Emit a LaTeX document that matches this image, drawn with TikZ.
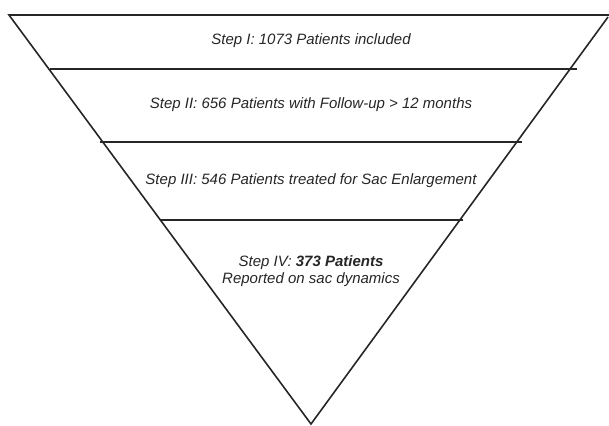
\documentclass[tikz,border=0pt]{standalone}
\usepackage{fontspec}
\setmainfont{Liberation Sans}
\begin{document}
\begin{tikzpicture}[x=1pt,y=-1pt,
  edge/.style={line width=1.6pt,draw=black!85},
  lbl/.style={font=\itshape\fontsize{15}{16.5}\selectfont,align=center,text=black!85}]
\useasboundingbox (0,0) rectangle (609,425);
\coordinate (tl) at (9,15);
\coordinate (tr) at (609,15);
\coordinate (ap) at (311,424);
\draw[edge,line join=miter] (tr) -- (tl) -- (ap) -- (608,17);
\coordinate (a1) at (50,69); \coordinate (b1) at (577,69);
\coordinate (a2) at (100,142); \coordinate (b2) at (522,142);
\coordinate (a3) at (160,220); \coordinate (b3) at (463,220);
\draw[edge] (a1) -- (b1);
\draw[edge] (a2) -- (b2);
\draw[edge] (a3) -- (b3);
\node[lbl] (s1) at (311,41) {Step I: 1073 Patients included};
\node[lbl] (s2) at (311,105) {Step II: 656 Patients with Follow-up {>} 12 months};
\node[lbl] (s3) at (311,181) {Step III: 546 Patients treated for Sac Enlargement};
\node[lbl] (s4) at (311,271) {Step IV: \textbf{373 Patients}\\Reported on sac dynamics};
\end{tikzpicture}
\end{document}
